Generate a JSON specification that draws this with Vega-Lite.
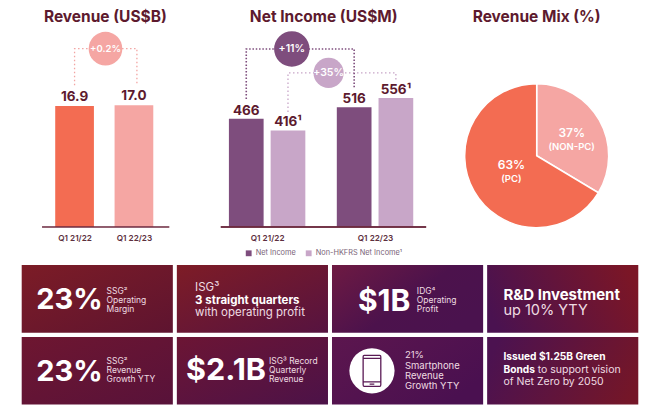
{
"$schema":"https://vega.github.io/schema/vega-lite/v6.json",
"background":"white",
"padding":{"left":21.7,"top":0,"right":0,"bottom":0},
"config":{"view":{"stroke":null},"font":"Inter","text":{"font":"Inter"},"title":{"font":"Inter","fontSize":15.5,"fontWeight":700,"color":"#5d1a2e"}},
"spacing":8,
"vconcat":[
{"resolve":{"scale":{"color":"independent"}},
 "hconcat":[
{"width":173.3,"height":227,
 "title":{"text":"Revenue (US$B)","anchor":"middle","offset":-25,"dx":-3},
 "data":{"values":[
  {"quarter":"Q1 21/22","slot":1,"revenue":16.9,"label":"16.9"},
  {"quarter":"Q1 22/23","slot":2,"revenue":17.0,"label":"17.0"}]},
 "encoding":{
  "x":{"field":"slot","type":"quantitative","scale":{"domain":[0.1937,2.9444],"nice":false,"zero":false},
   "axis":{"values":[1,2],"labelExpr":"datum.value==1?'Q1 21/22':'Q1 22/23'","domain":false,"ticks":false,"grid":false,"title":null,"labelFontSize":8.2,"labelFontWeight":600,"labelColor":"#5d3040","labelPadding":8,"labelFont":"Inter"}},
  "y":{"field":"revenue","type":"quantitative","scale":{"domain":[0,31.7],"nice":false},"axis":null}},
 "layer":[
  {"mark":{"type":"bar","orient":"vertical","width":38.7},"encoding":{"color":{"field":"quarter","type":"nominal","scale":{"range":["#f36c52","#f5a6a3"]},"legend":null}}},
  {"mark":{"type":"text","baseline":"bottom","dy":-2,"fontSize":13.5,"fontWeight":700,"color":"#5d1a2e"},"encoding":{"text":{"field":"label"}}},
  {"data":{"values":[{"step":1,"slot":1,"level":19.8},{"step":2,"slot":1,"level":24.9},{"step":3,"slot":2.05,"level":24.9},{"step":4,"slot":2.05,"level":19.8}]},
   "mark":{"type":"line","strokeDash":[1.5,2.5],"strokeWidth":1.3,"color":"#f2a5a3"},
   "encoding":{"y":{"field":"level","type":"quantitative"},"order":{"field":"step"}}},
  {"data":{"values":[{"slot":1.521,"level":24.9,"change":"+0.2%"}]},
   "mark":{"type":"point","shape":"circle","filled":true,"size":1134,"opacity":1,"color":"#f5a6a3"},
   "encoding":{"y":{"field":"level","type":"quantitative"}}},
  {"data":{"values":[{"slot":1.521,"level":24.9,"change":"+0.2%"}]},
   "mark":{"type":"text","fontSize":9.5,"fontWeight":600,"color":"white"},
   "encoding":{"y":{"field":"level","type":"quantitative"},"text":{"field":"change"}}},
  {"mark":{"type":"rule","color":"#6b2a3f","strokeWidth":1},"encoding":{"x":{"datum":0.4524},"x2":{"datum":2.595},"y":{"datum":0}}}
 ]},
{"width":245,"height":227,
 "title":{"text":"Net Income (US$M)","anchor":"middle","offset":-25,"dx":5.5},
 "data":{"values":[
  {"quarter":"Q1 21/22","series":"Net Income","slot":1,"income":466,"label":"466"},
  {"quarter":"Q1 21/22","series":"Non-HKFRS Net Income¹","slot":2,"income":416,"label":"416¹"},
  {"quarter":"Q1 22/23","series":"Net Income","slot":3.586,"income":516,"label":"516"},
  {"quarter":"Q1 22/23","series":"Non-HKFRS Net Income¹","slot":4.586,"income":556,"label":"556¹"}]},
 "encoding":{
  "x":{"field":"slot","type":"quantitative","scale":{"domain":[-0.092,5.54],"nice":false,"zero":false},
   "axis":{"values":[1.5,4.086],"labelExpr":"datum.value==1.5?'Q1 21/22':'Q1 22/23'","domain":false,"ticks":false,"grid":false,"title":null,"labelFontSize":8.2,"labelFontWeight":600,"labelColor":"#5d3040","labelPadding":8,"labelFont":"Inter"}},
  "y":{"field":"income","type":"quantitative","scale":{"domain":[0,978],"nice":false},"axis":null}},
 "layer":[
  {"mark":{"type":"bar","orient":"vertical","width":34.7},
   "encoding":{"color":{"field":"series","type":"nominal","scale":{"domain":["Net Income","Non-HKFRS Net Income¹"],"range":["#7e4d7d","#c8a6c8"]},
    "legend":{"orient":"none","legendX":49,"legendY":249,"direction":"horizontal","title":null,"symbolType":"square","symbolSize":34,"labelFontSize":7.4,"labelColor":"#7a6478","labelFont":"Inter","symbolOffset":0,"columnPadding":8,"labelOffset":3}}}},
  {"mark":{"type":"text","baseline":"bottom","dy":-1,"fontSize":13.5,"fontWeight":700,"color":"#5d1a2e"},"encoding":{"text":{"field":"label"}}},
  {"data":{"values":[{"step":1,"slot":2,"level":496},{"step":2,"slot":2,"level":664},{"step":3,"slot":4.586,"level":664},{"step":4,"slot":4.586,"level":634}]},
   "mark":{"type":"line","strokeDash":[1.5,2.5],"strokeWidth":1.3,"color":"#c8a6c8"},
   "encoding":{"y":{"field":"level","type":"quantitative"},"order":{"field":"step"}}},
  {"data":{"values":[{"step":1,"slot":1,"level":552},{"step":2,"slot":1,"level":767},{"step":3,"slot":3.586,"level":767},{"step":4,"slot":3.586,"level":599}]},
   "mark":{"type":"line","strokeDash":[1.5,1.8],"strokeWidth":1.6,"color":"#7e4d7d"},
   "encoding":{"y":{"field":"level","type":"quantitative"},"order":{"field":"step"}}},
  {"data":{"values":[{"slot":2.092,"level":767,"change":"+11%"}]},
   "mark":{"type":"point","shape":"circle","filled":true,"size":1257,"opacity":1,"color":"#7e4d7d"},
   "encoding":{"y":{"field":"level","type":"quantitative"}}},
  {"data":{"values":[{"slot":2.973,"level":664,"change":"+35%"}]},
   "mark":{"type":"point","shape":"circle","filled":true,"size":908,"opacity":1,"color":"#c8a6c8"},
   "encoding":{"y":{"field":"level","type":"quantitative"}}},
  {"data":{"values":[{"slot":2.092,"level":767,"change":"+11%"}]},
   "mark":{"type":"text","fontSize":10.5,"fontWeight":600,"color":"white"},
   "encoding":{"y":{"field":"level","type":"quantitative"},"text":{"field":"change"}}},
  {"data":{"values":[{"slot":2.973,"level":664,"change":"+35%"}]},
   "mark":{"type":"text","fontSize":10.5,"fontWeight":600,"color":"white"},
   "encoding":{"y":{"field":"level","type":"quantitative"},"text":{"field":"change"}}},
  {"mark":{"type":"rule","color":"#6b2a3f","strokeWidth":1},"encoding":{"x":{"datum":0.391},"x2":{"datum":5.31},"y":{"datum":0}}}
 ]},
{"width":192,"height":227,
 "title":{"text":"Revenue Mix (%)","anchor":"middle","offset":-25},
 "data":{"values":[
  {"segment":"Non-PC","share":33.6,"order":1,"pct":"37%","name":"(NON-PC)"},
  {"segment":"PC","share":66.4,"order":2,"pct":"63%","name":"(PC)"}]},
 "layer":[
  {"mark":{"type":"arc","outerRadius":72,"stroke":"white","strokeWidth":1.5},
   "encoding":{
    "x":{"datum":0,"type":"quantitative","scale":{"domain":[-96,96],"nice":false,"zero":false},"axis":null},
    "y":{"datum":0,"type":"quantitative","scale":{"domain":[-71.3,155.7],"nice":false,"zero":false},"axis":null},
    "theta":{"field":"share","type":"quantitative","stack":true},
    "order":{"field":"order"},
    "color":{"field":"segment","type":"nominal","scale":{"domain":["Non-PC","PC"],"range":["#f5a6a3","#f36c52"]},"legend":null}}},
  {"transform":[{"filter":"datum.segment=='Non-PC'"}],"mark":{"type":"text","fontSize":12,"fontWeight":600,"color":"white"},
   "encoding":{"x":{"datum":35,"type":"quantitative"},"y":{"datum":22.7,"type":"quantitative"},"text":{"field":"pct"}}},
  {"transform":[{"filter":"datum.segment=='Non-PC'"}],"mark":{"type":"text","fontSize":9.5,"fontWeight":600,"color":"white"},
   "encoding":{"x":{"datum":35,"type":"quantitative"},"y":{"datum":8.7,"type":"quantitative"},"text":{"field":"name"}}},
  {"transform":[{"filter":"datum.segment=='PC'"}],"mark":{"type":"text","fontSize":12,"fontWeight":600,"color":"white"},
   "encoding":{"x":{"datum":-25.3,"type":"quantitative"},"y":{"datum":-9.3,"type":"quantitative"},"text":{"field":"pct"}}},
  {"transform":[{"filter":"datum.segment=='PC'"}],"mark":{"type":"text","fontSize":9.5,"fontWeight":600,"color":"white"},
   "encoding":{"x":{"datum":-25.3,"type":"quantitative"},"y":{"datum":-23.3,"type":"quantitative"},"text":{"field":"name"}}}
 ]}
],"spacing":0},
{"width":616.6,"height":139.6,
 "encoding":{
  "x":{"field":"col","type":"ordinal","scale":{"paddingInner":0.0258,"paddingOuter":0},"axis":null},
  "y":{"field":"row","type":"ordinal","scale":{"paddingInner":0.06,"paddingOuter":0},"axis":null}},
 "layer":[
  {"data":{"values":[{"col":1,"row":1}]},"mark":{"type":"rect","fill":{"gradient":"linear","x1":0,"y1":0,"x2":1,"y2":1,"stops":[{"offset":0,"color":"#7c1c26"},{"offset":1,"color":"#5e1430"}]}}},
  {"data":{"values":[{"col":1,"row":2}]},"mark":{"type":"rect","fill":{"gradient":"linear","x1":0,"y1":0,"x2":1,"y2":1,"stops":[{"offset":0,"color":"#6e1630"},{"offset":1,"color":"#58123a"}]}}},
  {"data":{"values":[{"col":2,"row":1}]},"mark":{"type":"rect","fill":{"gradient":"linear","x1":0,"y1":0,"x2":1,"y2":1,"stops":[{"offset":0,"color":"#7e1c26"},{"offset":1,"color":"#561340"}]}}},
  {"data":{"values":[{"col":2,"row":2}]},"mark":{"type":"rect","fill":{"gradient":"linear","x1":0,"y1":0,"x2":1,"y2":1,"stops":[{"offset":0,"color":"#6c1534"},{"offset":1,"color":"#4c1248"}]}}},
  {"data":{"values":[{"col":3,"row":1}]},"mark":{"type":"rect","fill":{"gradient":"linear","x1":0,"y1":0,"x2":1,"y2":0.6,"stops":[{"offset":0,"color":"#6e1a42"},{"offset":0.6,"color":"#4c124c"},{"offset":1,"color":"#4a124e"}]}}},
  {"data":{"values":[{"col":3,"row":2}]},"mark":{"type":"rect","fill":{"gradient":"linear","x1":0,"y1":0,"x2":1,"y2":0.6,"stops":[{"offset":0,"color":"#5c164e"},{"offset":1,"color":"#4a1050"}]}}},
  {"data":{"values":[{"col":4,"row":1}]},"mark":{"type":"rect","fill":{"gradient":"linear","x1":0,"y1":0.6,"x2":1,"y2":0.4,"stops":[{"offset":0,"color":"#4a1250"},{"offset":1,"color":"#7b1626"}]}}},
  {"data":{"values":[{"col":4,"row":2}]},"mark":{"type":"rect","fill":{"gradient":"linear","x1":0,"y1":0.4,"x2":1,"y2":0.6,"stops":[{"offset":0,"color":"#4c1250"},{"offset":1,"color":"#741628"}]}}},
  {"data":{"values":[{"col":1,"row":1,"text":"23%"},{"col":1,"row":2,"text":"23%"}]},
   "mark":{"type":"text","align":"left","dx":-61,"dy":1,"fontSize":29,"fontWeight":700,"color":"white"},"encoding":{"text":{"field":"text"}}},
  {"data":{"values":[{"col":1,"row":1,"text":["SSG²","Operating","Margin"]},{"col":3,"row":1,"text":["IDG⁴","Operating","Profit"]}]},
   "mark":{"type":"text","align":"left","dx":9.3,"dy":-7.5,"fontSize":8.5,"lineHeight":8.8,"color":"#efdce2"},"encoding":{"text":{"field":"text"}}},
  {"data":{"values":[{"col":1,"row":2,"text":["SSG²","Revenue","Growth YTY"]}]},
   "mark":{"type":"text","align":"left","dx":9.3,"dy":-9.5,"fontSize":8.5,"lineHeight":8.8,"color":"#efdce2"},"encoding":{"text":{"field":"text"}}},
  {"data":{"values":[{"col":2,"row":2,"text":["ISG³ Record","Quarterly","Revenue"]}]},
   "mark":{"type":"text","align":"left","dx":16.5,"dy":-9.8,"fontSize":8.5,"lineHeight":8.9,"color":"#efdce2"},"encoding":{"text":{"field":"text"}}},
  {"data":{"values":[{"col":2,"row":2,"text":"$2.1B"}]},
   "mark":{"type":"text","align":"left","dx":-66.3,"dy":0.5,"fontSize":30.5,"fontWeight":700,"color":"white"},"encoding":{"text":{"field":"text"}}},
  {"data":{"values":[{"col":3,"row":1,"text":"$1B"}]},
   "mark":{"type":"text","align":"left","dx":-49.6,"dy":3,"fontSize":30,"fontWeight":700,"color":"white"},"encoding":{"text":{"field":"text"}}},
  {"data":{"values":[{"col":2,"row":1,"text":"ISG³"}]},
   "mark":{"type":"text","align":"left","dx":-57.3,"dy":-10.5,"fontSize":11.5,"color":"#efdce2"},"encoding":{"text":{"field":"text"}}},
  {"data":{"values":[{"col":2,"row":1,"text":"with operating profit"}]},
   "mark":{"type":"text","align":"left","dx":-57.3,"dy":14.5,"fontSize":11.5,"color":"#efdce2"},"encoding":{"text":{"field":"text"}}},
  {"data":{"values":[{"col":2,"row":1,"text":"3 straight quarters"}]},
   "mark":{"type":"text","align":"left","dx":-57.3,"dy":2,"fontSize":11.5,"fontWeight":700,"color":"white"},"encoding":{"text":{"field":"text"}}},
  {"data":{"values":[{"col":4,"row":1,"text":"R&D Investment"}]},
   "mark":{"type":"text","align":"left","dx":-59.3,"dy":-3.8,"fontSize":15,"fontWeight":700,"color":"white"},"encoding":{"text":{"field":"text"}}},
  {"data":{"values":[{"col":4,"row":1,"text":"up 10% YTY"}]},
   "mark":{"type":"text","align":"left","dx":-59.3,"dy":12.2,"fontSize":14.5,"color":"#efdce2"},"encoding":{"text":{"field":"text"}}},
  {"data":{"values":[{"col":3,"row":2}]},
   "mark":{"type":"point","shape":"circle","filled":true,"opacity":1,"size":2043,"color":"white","xOffset":-35.6}},
  {"data":{"values":[{"col":3,"row":2}]},
   "mark":{"type":"point","filled":false,"opacity":1,"size":961,"stroke":"#5a1a55","strokeWidth":1.3,"xOffset":-35.6,"shape":"M-0.5,-1 Q-0.57,-1 -0.57,-0.9 L-0.57,0.9 Q-0.57,1 -0.5,1 L0.5,1 Q0.57,1 0.57,0.9 L0.57,-0.9 Q0.57,-1 0.5,-1 Z M-0.57,-0.8 L0.57,-0.8 M-0.57,0.72 L0.57,0.72 M-0.15,0.86 L0.15,0.86"}},
  {"data":{"values":[{"col":3,"row":2,"text":["21%","Smartphone","Revenue","Growth YTY"]}]},
   "mark":{"type":"text","align":"left","dx":-2.6,"dy":-15.3,"fontSize":9.5,"lineHeight":10.3,"color":"#efdce2"},"encoding":{"text":{"field":"text"}}},
  {"data":{"values":[{"col":4,"row":2,"text":"of Net Zero by 2050"}]},
   "mark":{"type":"text","align":"left","dx":-59.3,"dy":11.2,"fontSize":10.5,"color":"#efdce2"},"encoding":{"text":{"field":"text"}}},
  {"data":{"values":[{"col":4,"row":2,"text":"Issued $1.25B Green"}]},
   "mark":{"type":"text","align":"left","dx":-59.3,"dy":-13.8,"fontSize":10.2,"fontWeight":700,"color":"white"},"encoding":{"text":{"field":"text"}}},
  {"data":{"values":[{"col":4,"row":2,"text":"Bonds"}]},
   "mark":{"type":"text","align":"left","dx":-59.3,"dy":-1.2,"fontSize":10.2,"fontWeight":700,"color":"white"},"encoding":{"text":{"field":"text"}}},
  {"data":{"values":[{"col":4,"row":2,"text":"to support vision"}]},
   "mark":{"type":"text","align":"left","dx":-25,"dy":-1.2,"fontSize":10.5,"color":"#efdce2"},"encoding":{"text":{"field":"text"}}}
 ]}
]}
